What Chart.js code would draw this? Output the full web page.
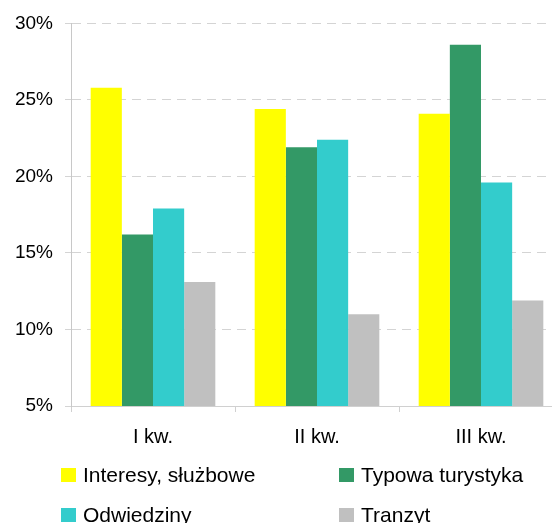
<!DOCTYPE html>
<html>
<head>
<meta charset="utf-8">
<script src="https://cdn.jsdelivr.net/npm/chart.js@4/dist/chart.umd.min.js"></script>
<style>
  html, body { margin: 0; padding: 0; background: #fff; overflow: hidden; }
  #wrap { position: relative; width: 552px; height: 523px; overflow: hidden; }
  #c { position: absolute; left: 0; top: 0; }
  #legend { position: absolute; left: 0; top: 0; width: 552px; height: 523px; pointer-events: none;
            font-family: "Liberation Sans", Arial, sans-serif; font-size: 21px; color: #000; }
  .item { position: absolute; display: flex; align-items: center; height: 24px; white-space: nowrap; }
  .sw { width: 15px; height: 14px; margin-right: 7px; flex: none; }
</style>
</head>
<body>
<div id="wrap">
  <canvas id="c" width="563" height="523"></canvas>
  <div id="legend"></div>
</div>
<script>
const categories = ["I kw.", "II kw.", "III kw."];
const seriesNames = ["Interesy, służbowe", "Typowa turystyka", "Odwiedziny", "Tranzyt"];
const interesy = [25.8, 24.4, 24.1];
const turystyka = [16.2, 21.9, 28.6];
const odwiedziny = [17.9, 22.4, 19.6];
const tranzyt = [13.1, 11.0, 11.9];
const colors = ["#FFFF00", "#339966", "#33CCCC", "#C0C0C0"];
const yTicks = [5, 10, 15, 20, 25, 30];

const seriesValues = [interesy, turystyka, odwiedziny, tranzyt];
const font = "'Liberation Sans', Arial, sans-serif";

const chart = new Chart(document.getElementById('c'), {
  type: 'bar',
  data: {
    labels: categories,
    datasets: seriesNames.map((name, i) => ({
      label: name,
      data: seriesValues[i],
      backgroundColor: colors[i],
      borderWidth: 0,
      categoryPercentage: 0.76,
      barPercentage: 1.0
    }))
  },
  options: {
    responsive: false,
    animation: false,
    devicePixelRatio: 1,
    layout: { padding: { top: 23, right: 0, bottom: 67, left: 0 } },
    plugins: { legend: { display: false }, tooltip: { enabled: false } },
    scales: {
      x: {
        grid: { display: true, drawOnChartArea: false, drawTicks: true, tickLength: 6, color: '#d0d0d0', offset: true },
        border: { display: true, color: '#d0d0d0', width: 1 },
        ticks: { font: { family: font, size: 20 }, color: '#000', padding: 13, maxRotation: 0 },
        afterFit: s => { s.height = 50; }
      },
      y: {
        min: yTicks[0],
        max: yTicks[yTicks.length - 1],
        afterBuildTicks: s => { s.ticks = yTicks.map(v => ({ value: v })); },
        grid: { color: '#d4d4d4', lineWidth: 1, tickLength: 6, tickColor: '#d4d4d4', drawTicks: true, tickBorderDash: [] },
        border: { display: true, color: '#c8c8c8', width: 1, dash: [9, 6] },
        ticks: { font: { family: font, size: 19 }, color: '#000', padding: 12, callback: v => v + '%' },
        afterFit: s => { s.width = 71; }
      }
    }
  }
});

// HTML legend built from the chart's datasets
const legendPos = [[61, 463], [339, 463], [61, 503], [339, 503]];
const leg = document.getElementById('legend');
chart.data.datasets.forEach((ds, i) => {
  const it = document.createElement('div');
  it.className = 'item';
  it.style.left = legendPos[i][0] + 'px';
  it.style.top = legendPos[i][1] + 'px';
  const sw = document.createElement('span');
  sw.className = 'sw';
  sw.style.background = ds.backgroundColor;
  const tx = document.createElement('span');
  tx.textContent = ds.label;
  it.appendChild(sw); it.appendChild(tx);
  leg.appendChild(it);
});
</script>
</body>
</html>
